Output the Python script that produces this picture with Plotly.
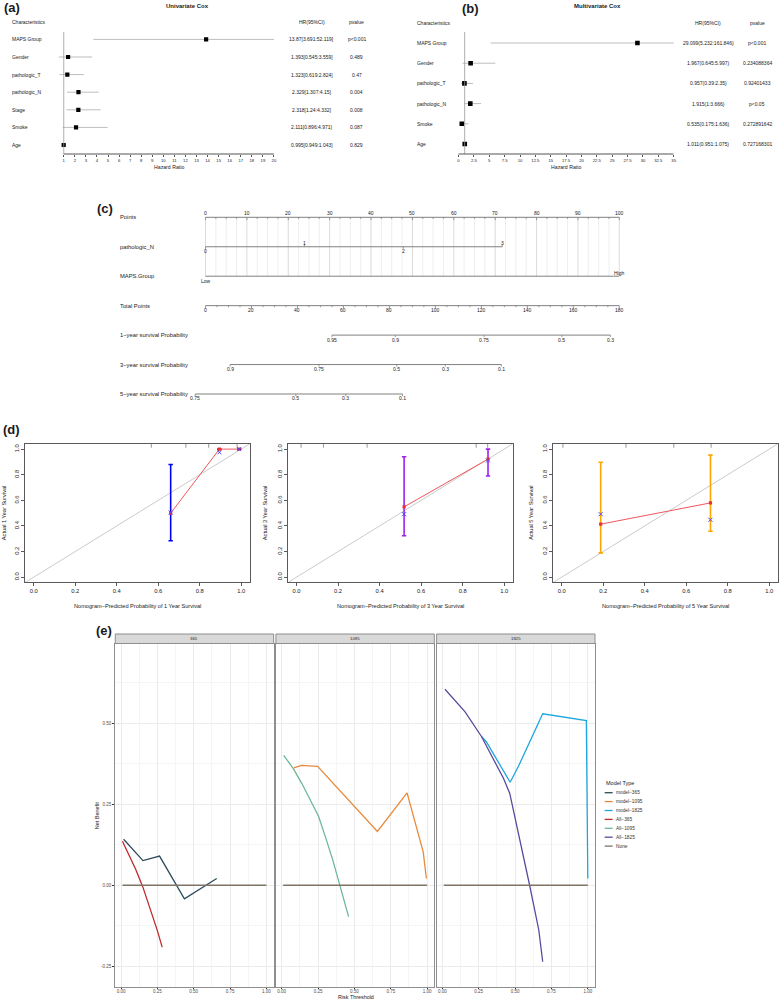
import plotly.graph_objects as go

# ======================= DATA =======================
# (a) Univariate Cox
uni_vars = ["MAPS Group", "Gender", "pathologic_T", "pathologic_N", "Stage", "Smoke", "Age"]
uni_hr = [13.87, 1.393, 1.323, 2.329, 2.318, 2.111, 0.995]
uni_lo = [3.691, 0.545, 0.619, 1.307, 1.24, 0.896, 0.949]
uni_hi = [52.119, 3.559, 2.824, 4.15, 4.332, 4.971, 1.043]
uni_p = ["p<0.001", "0.489", "0.47", "0.004", "0.008", "0.087", "0.829"]
uni_ticks = [1, 2, 3, 4, 5, 6, 7, 8, 9, 10, 11, 12, 13, 14, 15, 16, 17, 18, 19, 20]

# (b) Multivariate Cox
multi_vars = ["MAPS Group", "Gender", "pathologic_T", "pathologic_N", "Smoke", "Age"]
multi_hr = [29.099, 1.967, 0.957, 1.915, 0.535, 1.011]
multi_lo = [5.232, 0.645, 0.39, 1, 0.175, 0.951]
multi_hi = [161.846, 5.997, 2.35, 3.666, 1.636, 1.075]
multi_p = ["p<0.001", "0.234088364", "0.92401433", "p<0.05", "0.272891642", "0.727168301"]
multi_ticks = [0, 2.5, 5, 7.5, 10, 12.5, 15, 17.5, 20, 22.5, 25, 27.5, 30, 32.5, 35]

forest_headers = ["Characteristics", "HR(95%CI)", "pvalue"]

# (c) Nomogram
nomo_rows = ["Points", "pathologic_N", "MAPS.Group", "Total Points",
             "1\u2212year survival Probability", "3\u2212year survival Probability",
             "5\u2212year survival Probability"]
points_ticks = [0, 10, 20, 30, 40, 50, 60, 70, 80, 90, 100]
pathN_levels = ["0", "1", "2", "3"]
pathN_points = [0, 23.9, 47.8, 71.7]
maps_levels = ["Low", "High"]
maps_points = [0, 100]
total_ticks = [0, 20, 40, 60, 80, 100, 120, 140, 160, 180]
surv1_labels = ["0.95", "0.9", "0.75", "0.5", "0.3"]
surv1_total = [55.0, 82.6, 121.2, 155.0, 176.1]
surv3_labels = ["0.9", "0.75", "0.5", "0.3", "0.1"]
surv3_total = [10.7, 49.4, 83.2, 104.3, 128.7]
surv5_labels = ["0.75", "0.5", "0.3", "0.1"]
surv5_total = [-4.5, 39.3, 61.0, 85.7]

# (d) Calibration
cal_ticks = [0.0, 0.2, 0.4, 0.6, 0.8, 1.0]
cal1_pred = [0.66, 0.895, 0.99]
cal1_obs = [0.50, 1.0, 1.0]
cal1_lo = [0.285, 1.0, 1.0]
cal1_hi = [0.88, 1.0, 1.0]
cal1_corr = [0.505, 0.975, 1.0]
cal1_rug = [0.567, 0.733, 0.843, 0.98]

cal3_pred = [0.518, 0.922]
cal3_obs = [0.549, 0.922]
cal3_lo = [0.323, 0.79]
cal3_hi = [0.94, 1.0]
cal3_corr = [0.492, 0.911]
cal3_rug = [0.022, 0.13, 0.34, 0.865, 0.92]

cal5_pred = [0.188, 0.717]
cal5_obs = [0.414, 0.58]
cal5_lo = [0.19, 0.359]
cal5_hi = [0.898, 0.953]
cal5_corr = [0.492, 0.448]
cal5_rug = [0.006, 0.31, 0.54, 0.72]

# (e) Decision curves
dca_facets = ["365", "1095", "1825"]
m365_thr = [0.018, 0.151, 0.265, 0.436, 0.658]
m365_nb = [0.142, 0.076, 0.090, -0.042, 0.021]
a365_thr = [0.01, 0.05, 0.10, 0.15, 0.20, 0.25, 0.283]
a365_nb = [0.136, 0.10, 0.05, -0.005, -0.07, -0.14, -0.191]
m1095_thr = [0.084, 0.136, 0.247, 0.658, 0.862, 0.973, 0.995]
m1095_nb = [0.362, 0.370, 0.367, 0.166, 0.285, 0.103, 0.021]
a1095_thr = [0.014, 0.08, 0.14, 0.20, 0.254, 0.30, 0.35, 0.39, 0.46]
a1095_nb = [0.401, 0.36, 0.313, 0.262, 0.212, 0.15, 0.08, 0.016, -0.097]
m1825_thr = [0.269, 0.302, 0.466, 0.524, 0.69, 0.99, 1.0]
m1825_nb = [0.459, 0.443, 0.318, 0.368, 0.529, 0.508, 0.021]
a1825_thr = [0.018, 0.155, 0.269, 0.35, 0.42, 0.463, 0.52, 0.60, 0.663, 0.69]
a1825_nb = [0.605, 0.536, 0.459, 0.39, 0.33, 0.284, 0.17, 0.0, -0.138, -0.236]
none_thr = [0.01, 1.0]
none_nb = [0.0, 0.0]
dca_names = ["model\u2212365", "model\u22121095", "model\u22121825",
             "All\u2212365", "All\u22121095", "All\u22121825", "None"]
dca_colors = ["#2C4B5B", "#E8893A", "#1DA6DF", "#BF2A2A", "#6DB898", "#5A4A9C", "#7D7466"]
dca_xticks = [0, 0.25, 0.5, 0.75, 1.0]
dca_xtext = ["0.00", "0.25", "0.50", "0.75", "1.00"]
dca_yticks = [-0.25, 0, 0.25, 0.5]
dca_ytext = ["-0.25", "0.00", "0.25", "0.50"]

# ======================= HELPERS =======================
W, H = 781, 1000
FONT = "Liberation Sans, Arial, Helvetica, sans-serif"
TXT = "#1a1a1a"


def X(p):
    return p / W


def Y(p):
    return 1 - p / H


def axis_range(pa, va, pb, vb, plo, phi):
    s = (vb - va) / (pb - pa)
    return [va + (plo - pa) * s, va + (phi - pa) * s]


fig = go.Figure()
layout = dict(width=W, height=H, margin=dict(l=0, r=0, t=0, b=0),
              paper_bgcolor="white", plot_bgcolor="white", showlegend=False,
              font=dict(family=FONT, size=5, color=TXT))


def ann(text, x, y, xref="paper", yref="paper", size=5.0, xanchor="center",
        yanchor="middle", bold=False, angle=0, color=TXT, yshift=0, xshift=0):
    t = text.replace("<", "&lt;")
    if bold:
        t = "<b>" + t + "</b>"
    fig.add_annotation(text=t, x=x, y=y, xref=xref, yref=yref, showarrow=False,
                       font=dict(family=FONT, size=size, color=color),
                       xanchor=xanchor, yanchor=yanchor, textangle=angle,
                       yshift=yshift, xshift=xshift, borderpad=0)


def line_trace(x, y, xa, ya, color, width=1.0, dash=None):
    fig.add_trace(go.Scatter(x=x, y=y, mode="lines", xaxis=xa, yaxis=ya,
                             line=dict(color=color, width=width, dash=dash),
                             hoverinfo="skip"))


# ======================= (a) & (b) FOREST =======================
def forest(xa, yname, names, hr, lo, hi, pv, br, label_px, hr_px, p_px, msize, xline):
    idx = list(range(len(names)))
    xs, ys = [], []
    for i in idx:
        xs += [lo[i], hi[i], None]
        ys += [i, i, None]
    line_trace(xs, ys, xa, yname, "#BDBDBD", 1.0)
    fig.add_trace(go.Scatter(x=hr, y=idx, mode="markers", xaxis=xa, yaxis=yname,
                             marker=dict(symbol="square", size=msize, color="black",
                                         line=dict(width=0))))
    for i in idx:
        ann(names[i], X(label_px), i, yref=yname, xanchor="left")
        ann(f"{hr[i]:g}{br[0]}{lo[i]:g}:{hi[i]:g}{br[1]}", X(hr_px), i, yref=yname)
        ann(pv[i], X(p_px), i, yref=yname)
    ann(forest_headers[0], X(label_px), -1, yref=yname, xanchor="left")
    ann(forest_headers[1], X(hr_px), -1, yref=yname)
    ann(forest_headers[2], X(p_px), -1, yref=yname)
    # reference line at HR = 1 and axis line
    fig.add_shape(type="line", xref=xa, yref=yname + " domain", x0=1, x1=1, y0=0, y1=0.865,
                  line=dict(color="#9A9A9A", width=0.8))
    fig.add_shape(type="line", xref=xa, yref=yname + " domain", x0=xline[0], x1=xline[1],
                  y0=0, y1=0, line=dict(color="#555555", width=1))


forest("x", "y", uni_vars, uni_hr, uni_lo, uni_hi, uni_p, "[]",
       11, 313, 358, 4.2, [uni_ticks[0], uni_ticks[-1]])
forest("x2", "y2", multi_vars, multi_hr, multi_lo, multi_hi, multi_p, "()",
       418, 711, 760, 4.6, [multi_ticks[0], multi_ticks[-1]])

common_forest_x = dict(showgrid=False, zeroline=False, showline=False, ticks="outside",
                       ticklen=2, tickwidth=0.8, tickcolor="#555555",
                       tickfont=dict(size=4.2, color=TXT), tickmode="array", fixedrange=True)
layout["xaxis"] = dict(domain=[X(50), X(275)], range=axis_range(64, 1, 275, 20, 50, 275),
                       anchor="y", tickvals=uni_ticks, ticktext=[f"{v:g}" for v in uni_ticks],
                       **common_forest_x)
ra = axis_range(39.4, 0, 145, 6, 13, 154)
layout["yaxis"] = dict(domain=[Y(154), Y(13)], range=[ra[1], ra[0]], anchor="x", visible=False)
layout["xaxis2"] = dict(domain=[X(450), X(676.3)], range=axis_range(460.3, 0, 676.3, 35, 450, 676.3),
                        anchor="y2", tickvals=multi_ticks, ticktext=[f"{v:g}" for v in multi_ticks],
                        **common_forest_x)
rb = axis_range(43, 0, 144, 5, 13, 154)
layout["yaxis2"] = dict(domain=[Y(154), Y(13)], range=[rb[1], rb[0]], anchor="x2", visible=False)

ann("Hazard Ratio", X(169.5), Y(167.5), size=5.2)
ann("Hazard Ratio", X(568), Y(167.5), size=5.2)
ann("Univariate Cox", X(188), Y(6.5), size=6, bold=True)
ann("Multivariate Cox", X(600), Y(6.5), size=6, bold=True)
ann("(a)", X(3), Y(7.5), size=13, bold=True, xanchor="left")
ann("(b)", X(463), Y(8.5), size=13, bold=True, xanchor="left")

# ======================= (c) NOMOGRAM =======================
NX, NXT, NY = "x3", "x4", "y3"
ROWPX = 29.45
TICK = 2.0 / ROWPX
GRAY = "#808080"
rows = {name: i for i, name in enumerate(nomo_rows)}

# vertical grid lines
grid_minor = [v * 2.5 for v in range(41)]
gx1, gy1, gx2, gy2 = [], [], [], []
for v in grid_minor:
    if v in points_ticks:
        gx2 += [v, v, None]
        gy2 += [0, 2, None]
    else:
        gx1 += [v, v, None]
        gy1 += [0, 2, None]
line_trace(gx1, gy1, NX, NY, "#E6E6E6", 0.7)
line_trace(gx2, gy2, NX, NY, "#D2D2D2", 0.8)

# Points axis
r = rows["Points"]
line_trace([points_ticks[0], points_ticks[-1]], [r, r], NX, NY, GRAY, 1)
tx, ty = [], []
for v in grid_minor:
    tx += [v, v, None]
    ty += [r, r + (TICK * 1.4 if v in points_ticks else TICK * 0.8), None]
line_trace(tx, ty, NX, NY, GRAY, 0.8)
for v in points_ticks:
    ann(str(v), v, r, xref=NX, yref=NY, size=5, yshift=4)

# pathologic_N
r = rows["pathologic_N"]
line_trace([min(pathN_points), max(pathN_points)], [r, r], NX, NY, GRAY, 1)
tx, ty = [], []
for k, v in enumerate(pathN_points):
    up = (k % 2 == 1)
    tx += [v, v, None]
    ty += [r, r - TICK if up else r + TICK, None]
    ann(pathN_levels[k], v, r, xref=NX, yref=NY, size=5, yshift=3.5 if up else -4.5)
line_trace(tx, ty, NX, NY, GRAY, 0.8)

# MAPS.Group
r = rows["MAPS.Group"]
line_trace([min(maps_points), max(maps_points)], [r, r], NX, NY, GRAY, 1)
for k, v in enumerate(maps_points):
    up = (k % 2 == 1)
    ann(maps_levels[k], v, r, xref=NX, yref=NY, size=5, yshift=3.5 if up else -4.5)

# Total points
r = rows["Total Points"]
line_trace([total_ticks[0], total_ticks[-1]], [r, r], NXT, NY, GRAY, 1)
tx, ty = [], []
for v in range(total_ticks[0], total_ticks[-1] + 1, 5):
    tx += [v, v, None]
    ty += [r, r + (TICK * 1.4 if v in total_ticks else TICK * 0.8), None]
line_trace(tx, ty, NXT, NY, GRAY, 0.8)
for v in total_ticks:
    ann(str(v), v, r, xref=NXT, yref=NY, size=5, yshift=-4.5)

# survival probability axes
for name, labs, tots in [(nomo_rows[4], surv1_labels, surv1_total),
                         (nomo_rows[5], surv3_labels, surv3_total),
                         (nomo_rows[6], surv5_labels, surv5_total)]:
    r = rows[name]
    line_trace([min(tots), max(tots)], [r, r], NXT, NY, GRAY, 1)
    tx, ty = [], []
    for v in tots:
        tx += [v, v, None]
        ty += [r, r + TICK, None]
    line_trace(tx, ty, NXT, NY, GRAY, 0.8)
    for lab, v in zip(labs, tots):
        ann(lab, v, r, xref=NXT, yref=NY, size=5, yshift=-4.5)

for name in nomo_rows:
    ann(name, X(119), rows[name], yref=NY, xanchor="left", size=5.8)

ann("(c)", X(96.5), Y(209), size=13, bold=True, xanchor="left")

layout["xaxis3"] = dict(domain=[X(150), X(650)], range=axis_range(206.3, 0, 621.7, 100, 150, 650),
                        anchor="y3", visible=False, fixedrange=True)
layout["xaxis4"] = dict(domain=[X(150), X(650)], range=axis_range(206.3, 0, 621.7, 180, 150, 650),
                        anchor="y3", overlaying="x3", visible=False, fixedrange=True)
rc = axis_range(217.3, 0, 217.3 + 6 * ROWPX, 6, 190, 420)
layout["yaxis3"] = dict(domain=[Y(420), Y(190)], range=[rc[1], rc[0]], anchor="x3", visible=False)

# ======================= (d) CALIBRATION =======================
cal_panels = [
    (cal1_pred, cal1_obs, cal1_lo, cal1_hi, cal1_corr, cal1_rug, "#0000FF", "1", [25.5, 250.5], 4.0),
    (cal3_pred, cal3_obs, cal3_lo, cal3_hi, cal3_corr, cal3_rug, "#A020F0", "3", [289.3, 514.5], 266.0),
    (cal5_pred, cal5_obs, cal5_lo, cal5_hi, cal5_corr, cal5_rug, "#FFA500", "5", [555.5, 780.5], 532.7),
]
for k, (pred, obs, lo, hi, corr, rug, col, yr, dom, ylab_px) in enumerate(cal_panels):
    xa, ya = f"x{5 + k}", f"y{4 + k}"
    line_trace([-0.04, 1.04], [-0.04, 1.04], xa, ya, "#C4C4C4", 0.9)
    fig.add_trace(go.Scatter(x=rug, y=[1.028] * len(rug), mode="markers", xaxis=xa, yaxis=ya,
                             marker=dict(symbol="line-ns", size=3,
                                         line=dict(color="#A8A8A8", width=1.2))))
    fig.add_trace(go.Scatter(
        x=pred, y=obs, mode="markers", xaxis=xa, yaxis=ya,
        marker=dict(size=0.1, color=col),
        error_y=dict(type="data", symmetric=False,
                     array=[h - o for h, o in zip(hi, obs)],
                     arrayminus=[o - l for o, l in zip(obs, lo)],
                     color=col, thickness=1.6, width=2.2)))
    fig.add_trace(go.Scatter(x=pred, y=obs, mode="lines+markers", xaxis=xa, yaxis=ya,
                             line=dict(color="#F2555C", width=1.0),
                             marker=dict(size=3.2, color="#E8303A", symbol="square")))
    fig.add_trace(go.Scatter(x=pred, y=corr, mode="markers", xaxis=xa, yaxis=ya,
                             marker=dict(symbol="x-thin", size=4,
                                         line=dict(color="#4B4BFF", width=1))))
    layout[f"xaxis{5 + k}"] = dict(
        domain=[X(dom[0]), X(dom[1])], range=[-0.04, 1.04], anchor=ya,
        showline=True, mirror=True, linecolor="#5A5A5A", linewidth=1,
        ticks="outside", ticklen=3, tickwidth=0.8, tickcolor="#5A5A5A",
        tickvals=cal_ticks, ticktext=[f"{v:.1f}" for v in cal_ticks],
        tickfont=dict(size=5.8, color=TXT), showgrid=False, zeroline=False, fixedrange=True)
    layout[f"yaxis{4 + k}"] = dict(
        domain=[Y(582.3), Y(444)], range=[-0.04, 1.04], anchor=xa,
        showline=True, mirror=True, linecolor="#5A5A5A", linewidth=1,
        ticks="outside", ticklen=3, tickwidth=0.8, tickcolor="#5A5A5A",
        tickvals=cal_ticks, ticktext=[f"{v:.1f}" for v in cal_ticks], tickangle=-90,
        tickfont=dict(size=5.8, color=TXT), showgrid=False, zeroline=False, fixedrange=True)
    ann(f"Nomogram\u2212Predicted Probability of {yr} Year Survival", 0.5, Y(605.7),
        xref=xa + " domain", size=5.6)
    ann(f"Actual {yr} Year Survival", X(ylab_px), 0.5, yref=ya + " domain", size=5.6, angle=-90)

ann("(d)", X(2.5), Y(429), size=13, bold=True, xanchor="left")

# ======================= (e) DECISION CURVES =======================
dca_series = [
    [(m365_thr, m365_nb, 0), (a365_thr, a365_nb, 3), (none_thr, none_nb, 6)],
    [(m1095_thr, m1095_nb, 1), (a1095_thr, a1095_nb, 4), (none_thr, none_nb, 6)],
    [(m1825_thr, m1825_nb, 2), (a1825_thr, a1825_nb, 5), (none_thr, none_nb, 6)],
]
e_doms = [[115.7, 274.7], [277.0, 436.0], [438.3, 597.3]]
for k, facet in enumerate(dca_facets):
    xa, ya = f"x{8 + k}", f"y{7 + k}"
    for thr, nb, ci in dca_series[k]:
        line_trace(thr, nb, xa, ya, dca_colors[ci], 1.3)
    layout[f"xaxis{8 + k}"] = dict(
        domain=[X(e_doms[k][0]), X(e_doms[k][1])], range=[-0.0395, 1.0495], anchor=ya,
        showline=True, mirror=True, linecolor="#8E8E8E", linewidth=1,
        ticks="outside", ticklen=1.5, tickwidth=0.7, tickcolor="#333333",
        tickmode="array", tickvals=dca_xticks, ticktext=dca_xtext,
        tickfont=dict(size=4.5, color="#4D4D4D"), ticklabelstandoff=-2,
        showgrid=True, gridcolor="#EBEBEB", gridwidth=0.8, zeroline=False,
        minor=dict(tickvals=[0.125, 0.375, 0.625, 0.875], showgrid=True,
                   gridcolor="#F5F5F5", gridwidth=0.5, ticks=""),
        fixedrange=True)
    layout[f"yaxis{7 + k}"] = dict(
        domain=[Y(986.7), Y(643.5)], range=[-0.313, 0.746], anchor=xa,
        showline=True, mirror=True, linecolor="#8E8E8E", linewidth=1,
        ticks="outside" if k == 0 else "", ticklen=2, tickwidth=0.7, tickcolor="#333333",
        tickmode="array", tickvals=dca_yticks, ticktext=dca_ytext,
        showticklabels=(k == 0), tickfont=dict(size=4.5, color="#4D4D4D"),
        showgrid=True, gridcolor="#EBEBEB", gridwidth=0.8, zeroline=False,
        minor=dict(tickvals=[-0.125, 0.125, 0.375, 0.625], showgrid=True,
                   gridcolor="#F5F5F5", gridwidth=0.5, ticks=""),
        fixedrange=True)
    fig.add_shape(type="rect", xref=xa + " domain", yref="paper", x0=0, x1=1,
                  y0=Y(643.5), y1=Y(634), fillcolor="#D9D9D9",
                  line=dict(color="#8E8E8E", width=1), layer="above")
    ann(facet, 0.5, Y(638.8), xref=xa + " domain", size=4.3, color="#1a1a1a")

ann("Net Benefit", X(97.7), Y(815), size=5.5, angle=-90)
ann("Risk Threshold", X(357), Y(997.3), size=5.4)
ann("(e)", X(95), Y(630), size=13, bold=True, xanchor="left")

# legend
ann("Model Type", X(607), Y(782.7), size=5.5, xanchor="left")
for k, (nm, col) in enumerate(zip(dca_names, dca_colors)):
    yy = 792.7 + 8.9 * k
    fig.add_shape(type="line", xref="paper", yref="paper", x0=X(607), x1=X(615),
                  y0=Y(yy), y1=Y(yy), line=dict(color=col, width=1.3))
    ann(nm, X(617.5), Y(yy), size=4.8, xanchor="left", color="#333333")

fig.update_layout(**layout)
fig.write_html("out.html")
